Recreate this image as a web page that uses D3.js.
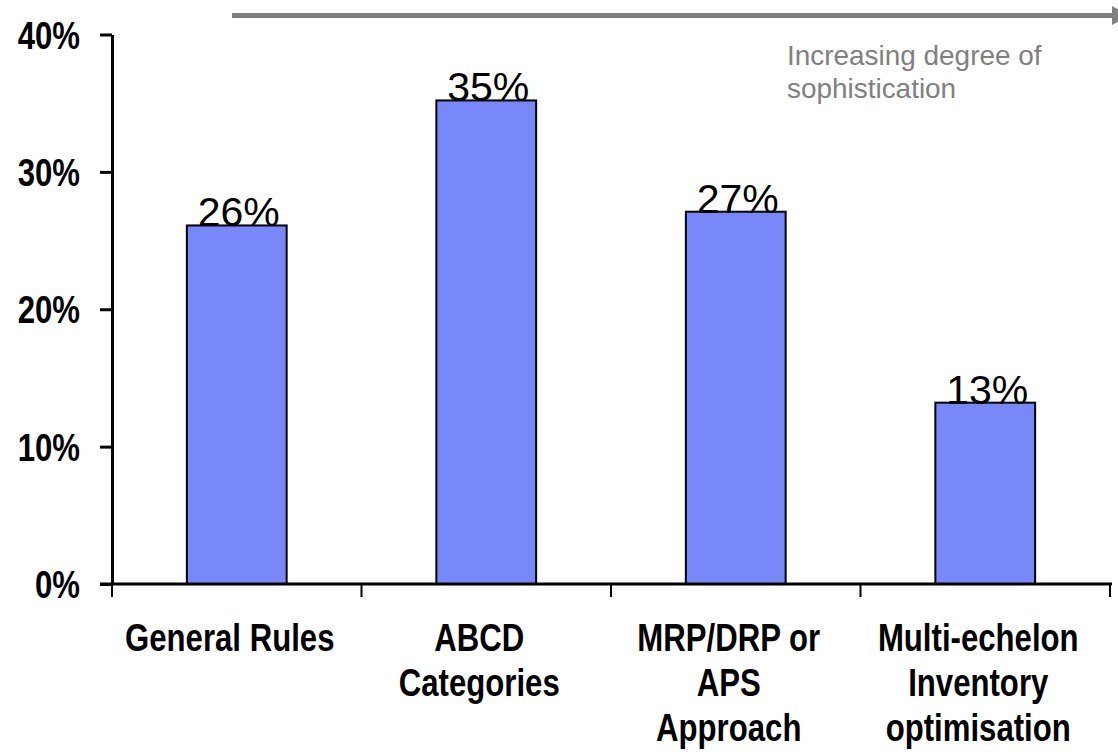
<!DOCTYPE html>
<html>
<head>
<meta charset="utf-8">
<script src="https://cdn.jsdelivr.net/npm/d3@7"></script>
<style>
  html, body { margin: 0; padding: 0; background: #fff; }
  svg { display: block; font-family: "Liberation Sans", Arial, sans-serif; }
</style>
</head>
<body>
<svg id="chart" width="1118" height="752"></svg>
<script>
const categories = [
  ["General Rules"],
  ["ABCD", "Categories"],
  ["MRP/DRP or", "APS", "Approach"],
  ["Multi-echelon", "Inventory", "optimisation"]
];
const values = [0.261, 0.352, 0.271, 0.132];
const valueLabels = ["26%", "35%", "27%", "13%"];
const yTicks = [0, 0.1, 0.2, 0.3, 0.4];
const noteLines = ["Increasing degree of", "sophistication"];

const svg = d3.select("#chart");
const NARROW = 0.82;

const x = d3.scaleBand()
  .domain(d3.range(categories.length))
  .range([112, 1110])
  .paddingInner(0.6)
  .paddingOuter(0.3);

const y = d3.scaleLinear().domain([0, 0.4]).range([584, 34.5]);

// narrow text helper
function narrow(parent, tx, ty, txt, size, weight, anchor, fill, sx) {
  const g = parent.append("g").attr("transform", `translate(${tx},${ty}) scale(${sx},1)`);
  g.append("text")
    .attr("text-anchor", anchor)
    .attr("font-size", size)
    .attr("font-weight", weight)
    .attr("fill", fill)
    .text(txt);
  return g;
}

// Bars
svg.append("g").selectAll("rect")
  .data(values)
  .join("rect")
  .attr("x", (d, i) => x(i))
  .attr("y", d => y(d))
  .attr("width", x.bandwidth())
  .attr("height", d => y(0) - y(d))
  .attr("fill", "#7888f8")
  .attr("stroke", "#000")
  .attr("stroke-width", 2);

// Y axis
const yAxis = svg.append("g")
  .attr("transform", "translate(112,0)")
  .call(d3.axisLeft(y).tickValues(yTicks).tickSize(12).tickSizeOuter(0).tickFormat(d3.format(".0%")));
yAxis.select(".domain").attr("stroke", "#000").attr("stroke-width", 3);
yAxis.selectAll(".tick line").attr("stroke", "#000").attr("stroke-width", 3);
yAxis.selectAll(".tick text")
  .attr("x", -32 / NARROW)
  .attr("dy", "0.36em")
  .attr("transform", `scale(${NARROW},1)`)
  .attr("font-size", 38)
  .attr("font-weight", "bold")
  .attr("font-family", "'Liberation Sans', Arial, sans-serif")
  .attr("fill", "#000");

// X axis (line + boundary ticks)
const step = x.step();
const bounds = d3.range(categories.length + 1).map(i => x(0) - step * x.paddingInner() / 2 + i * step);
const xg = svg.append("g");
xg.append("line")
  .attr("x1", 100).attr("x2", bounds[bounds.length - 1] + 2)
  .attr("y1", y(0)).attr("y2", y(0))
  .attr("stroke", "#000").attr("stroke-width", 3);
xg.selectAll("line.tk")
  .data(bounds)
  .join("line")
  .attr("class", "tk")
  .attr("x1", d => d).attr("x2", d => d)
  .attr("y1", y(0)).attr("y2", y(0) + 13)
  .attr("stroke", "#000").attr("stroke-width", 2);

// Category labels
categories.forEach((lines, i) => {
  const cx = x(i) + x.bandwidth() / 2 - 7;
  lines.forEach((ln, j) => {
    narrow(svg, cx, 651 + j * 45, ln, 38, "bold", "middle", "#000", NARROW);
  });
});

// Value labels
svg.append("g").selectAll("text")
  .data(values)
  .join("text")
  .attr("x", (d, i) => x(i) + x.bandwidth() / 2 + 2)
  .attr("y", d => y(d) + 1)
  .attr("text-anchor", "middle")
  .attr("font-size", 41)
  .attr("fill", "#000")
  .text((d, i) => valueLabels[i]);

// Arrow at top
svg.append("line")
  .attr("x1", 232).attr("x2", 1113)
  .attr("y1", 15.5).attr("y2", 15.5)
  .attr("stroke", "#808080").attr("stroke-width", 5);
svg.append("path")
  .attr("d", "M1112,6 L1130,15.5 L1112,25 Z")
  .attr("fill", "#808080");

// Note text
noteLines.forEach((ln, j) => {
  narrow(svg, 787, 65 + j * 33, ln, 28.5, "normal", "start", "#808080", 0.98);
});
</script>
</body>
</html>
